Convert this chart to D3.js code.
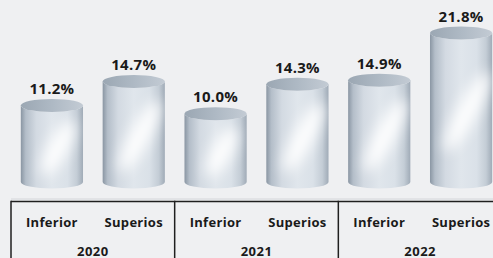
<!DOCTYPE html>
<html><head><meta charset="utf-8">
<script src="https://cdn.jsdelivr.net/npm/d3@7"></script>
<style>
html,body{margin:0;padding:0;background:#eff0f2;}
svg{display:block;}
text{font-family:"Open Sans",sans-serif;font-weight:700;fill:#1a1a1a;}
</style></head><body>
<svg id="c" width="493" height="258"></svg>
<script>
const years = ["2020", "2021", "2022"];
const levels = ["Inferior", "Superios"];
const values = [11.2, 14.7, 10.0, 14.3, 14.9, 21.8];
const valueLabels = ["11.2%", "14.7%", "10.0%", "14.3%", "14.9%", "21.8%"];

(function () {
const svg = d3.select("#c");
const W = 493, H = 258;
const cats = values.map((v, i) => ({ i, v, year: years[Math.floor(i / 2)], level: levels[i % 2], label: valueLabels[i] }));

const x = d3.scaleBand().domain(cats.map(d => d.i)).range([11, 502]).paddingInner(0.24).paddingOuter(0.12);
const y = d3.scaleLinear().domain([0, 21.8]).range([182, 33]);
const ry = 6.5;
const bw = x.bandwidth();

const defs = svg.append("defs");
const bodyG = defs.append("linearGradient").attr("id", "body").attr("x1", 0).attr("x2", 1).attr("y1", 0).attr("y2", 0);
[[0, "#8a96a3"], [0.08, "#b4bec9"], [0.25, "#d3dae2"], [0.5, "#e0e6ec"], [0.75, "#dae1e8"], [0.9, "#c4cdd6"], [1, "#a0abb7"]]
  .forEach(([o, c]) => bodyG.append("stop").attr("offset", o).attr("stop-color", c));
const topG = defs.append("linearGradient").attr("id", "topg").attr("x1", 0).attr("x2", 1).attr("y1", 0).attr("y2", 0);
[[0, "#9ba7b3"], [0.5, "#aeb9c4"], [1, "#c3cbd4"]]
  .forEach(([o, c]) => topG.append("stop").attr("offset", o).attr("stop-color", c));
defs.append("filter").attr("id", "blur").attr("x", "-80%").attr("y", "-80%").attr("width", "260%").attr("height", "260%")
  .append("feGaussianBlur").attr("stdDeviation", 7);

svg.append("line").attr("x1", 11).attr("x2", W).attr("y1", 199).attr("y2", 199)
  .attr("stroke", "#d4d6da").attr("stroke-width", 1);

function bodyPath(d) {
  const x0 = x(d.i), x1 = x0 + bw, rx = bw / 2;
  const yt = y(d.v), yb = y(0);
  return `M${x0},${yt} L${x0},${yb} A${rx},${ry} 0 0 0 ${x1},${yb} L${x1},${yt} A${rx},${ry} 0 0 1 ${x0},${yt} Z`;
}
cats.forEach(d => {
  defs.append("clipPath").attr("id", "clip" + d.i).append("path").attr("d", bodyPath(d));
});

const bars = svg.append("g").selectAll("g.bar").data(cats).join("g").attr("class", "bar");
bars.append("path").attr("d", bodyPath).attr("fill", "url(#body)");
bars.append("g").attr("clip-path", d => `url(#clip${d.i})`)
  .append("ellipse")
  .attr("cx", 0).attr("cy", 0)
  .attr("rx", 10).attr("ry", d => Math.min(45, (y(0) - y(d.v)) * 0.4))
  .attr("transform", d => `translate(${x(d.i) + bw * 0.6},${(y(d.v) + y(0)) / 2 + 4}) rotate(28)`)
  .attr("fill", "#ffffff").attr("opacity", 0.95).attr("filter", "url(#blur)");
bars.append("ellipse")
  .attr("cx", d => x(d.i) + bw / 2).attr("cy", d => y(d.v))
  .attr("rx", bw / 2).attr("ry", ry).attr("fill", "url(#topg)");
bars.append("text")
  .attr("x", d => x(d.i) + bw / 2).attr("y", d => y(d.v) - ry - 5)
  .attr("text-anchor", "middle").style("font-size", "15px").style("letter-spacing", "0.3px").text(d => d.label);

const tableTop = 201.5;
svg.append("g").selectAll("text").data(cats).join("text")
  .attr("x", d => x(d.i) + bw / 2).attr("y", 226.5)
  .attr("text-anchor", "middle").style("font-size", "13px").style("letter-spacing", "0.3px").text(d => d.level);
const step = x.step();
const groupEdges = years.map((yr, k) => x(2 * k) - x.paddingInner() * step / 2);
const groupEnd = x(5) + bw + x.paddingInner() * step / 2;
svg.append("g").selectAll("text").data(years).join("text")
  .attr("x", (yr, k) => (x(2 * k) + x(2 * k + 1) + bw) / 2).attr("y", 255.5)
  .attr("text-anchor", "middle").style("font-size", "13px").style("letter-spacing", "0.5px").text(d => d);
const edges = [11].concat(groupEdges.slice(1), [groupEnd]);
svg.append("line").attr("x1", 11).attr("x2", groupEnd).attr("y1", tableTop).attr("y2", tableTop)
  .attr("stroke", "#1f1f1f").attr("stroke-width", 1.5);
svg.selectAll("line.v").data(edges).join("line").attr("class", "v")
  .attr("x1", d => d).attr("x2", d => d).attr("y1", tableTop - 0.75).attr("y2", H)
  .attr("stroke", "#1f1f1f").attr("stroke-width", 1.5);
})();
</script></body></html>
